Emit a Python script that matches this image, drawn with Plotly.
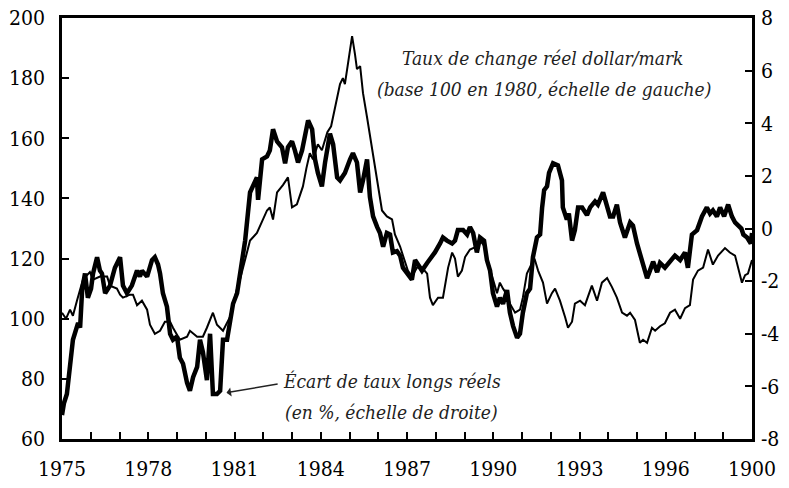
import plotly.graph_objects as go

# Taux de change réel dollar/mark (base 100 en 1980, échelle de gauche)
fx_years = [1975.00, 1975.14, 1975.28, 1975.38, 1975.52, 1975.73, 1975.97, 1976.08, 1976.32, 1976.57,
            1976.67, 1976.91, 1977.02, 1977.12, 1977.37, 1977.47, 1977.61, 1977.78, 1977.96, 1978.06,
            1978.23, 1978.41, 1978.58, 1978.76, 1978.86, 1979.10, 1979.35, 1979.45, 1979.70, 1979.90,
            1980.04, 1980.15, 1980.25, 1980.39, 1980.60, 1980.84, 1980.95, 1981.09, 1981.19, 1981.37,
            1981.54, 1981.78, 1981.99, 1982.13, 1982.23, 1982.34, 1982.48, 1982.69, 1982.86, 1983.00,
            1983.17, 1983.38, 1983.50, 1983.62, 1983.73, 1983.90, 1984.04, 1984.23, 1984.36, 1984.47,
            1984.55, 1984.67,
            1984.77, 1984.84, 1984.95, 1985.09, 1985.19, 1985.26, 1985.37, 1985.47, 1985.61, 1985.78,
            1985.96, 1986.13, 1986.30, 1986.48, 1986.58, 1986.76, 1986.86, 1987.03, 1987.17, 1987.35,
            1987.52, 1987.70, 1987.80, 1987.90, 1988.08, 1988.25, 1988.43, 1988.57, 1988.67, 1988.77,
            1988.91, 1989.02, 1989.19, 1989.43, 1989.54, 1989.71, 1989.78, 1989.99, 1990.13, 1990.23,
            1990.34, 1990.48, 1990.58, 1990.76, 1990.93, 1991.03, 1991.17, 1991.35, 1991.45, 1991.56,
            1991.73, 1991.87, 1992.04, 1992.15, 1992.32, 1992.50, 1992.60, 1992.74, 1992.84, 1993.02,
            1993.19, 1993.43, 1993.61, 1993.78, 1993.96, 1994.13, 1994.30, 1994.48, 1994.65, 1994.76,
            1994.93, 1995.10, 1995.21, 1995.35, 1995.52, 1995.63, 1995.80, 1995.97, 1996.15, 1996.32,
            1996.50, 1996.67, 1996.84, 1996.95, 1997.12, 1997.30, 1997.47, 1997.64, 1997.82, 1998.06,
            1998.23, 1998.41, 1998.65, 1998.76, 1998.86, 1999.00]
fx_values = [102, 100, 103, 101, 106, 113, 115.5, 113, 114, 114,
             111, 110, 108, 107, 108, 108, 104.5, 106, 103, 98,
             95, 96, 99, 99, 97, 93, 94, 96, 94, 94,
             97, 100, 102, 98, 96, 100.5, 105, 110, 113, 120,
             126, 128.5, 133, 136, 137, 133, 142, 144.5, 147, 137,
             138, 144, 150, 155, 153, 158, 156, 162, 164, 169,
             173, 178,
             180, 178, 185, 194, 188, 183, 184, 175, 167, 157,
             146, 136, 134, 133, 128, 124, 121, 116, 114, 117,
             117, 115, 107, 104.5, 107, 107, 117, 122, 120, 114,
             116, 120.5, 123, 124, 126, 124, 120, 113, 108.5, 112,
             110, 108, 105, 102, 103, 107, 115, 118.5, 119.5, 116,
             112, 105, 108.5, 110, 106, 100.5, 97, 99, 105, 106,
             104.5, 111, 106, 112, 113.5, 110.5, 107, 102, 101, 102,
             99.6, 92, 93, 92, 97, 96, 97.5, 98.5, 102, 103,
             100, 103.5, 104.5, 113, 116, 117, 123, 118, 121, 123.5,
             122, 121, 112, 114.5, 115, 119.5]

# Écart de taux longs réels (en %, échelle de droite)
gap_years = [1975.00, 1975.07, 1975.17, 1975.28, 1975.38, 1975.56, 1975.63, 1975.70, 1975.80, 1975.90,
             1976.01, 1976.08, 1976.22, 1976.32, 1976.39, 1976.50, 1976.67, 1976.84, 1977.02, 1977.12,
             1977.26, 1977.43, 1977.61, 1977.71, 1977.78, 1977.96, 1978.13, 1978.23, 1978.34, 1978.41,
             1978.51, 1978.65, 1978.76, 1978.86, 1979.00, 1979.10, 1979.21, 1979.35, 1979.45, 1979.56,
             1979.70, 1979.80, 1979.90, 1980.04, 1980.15, 1980.25, 1980.39, 1980.50, 1980.60, 1980.74,
             1980.84, 1980.95, 1981.09, 1981.19, 1981.30, 1981.37, 1981.54, 1981.64, 1981.78, 1981.82,
             1981.96, 1982.13, 1982.23, 1982.34, 1982.48, 1982.65, 1982.76, 1982.86, 1983.00, 1983.10,
             1983.21, 1983.35, 1983.45, 1983.56, 1983.70, 1983.80, 1983.90, 1984.04, 1984.15, 1984.32,
             1984.43, 1984.57, 1984.67, 1984.84, 1985.02, 1985.12, 1985.26, 1985.37, 1985.47, 1985.61,
             1985.71, 1985.82, 1985.96, 1986.06, 1986.17, 1986.30, 1986.41, 1986.51, 1986.65, 1986.76,
             1986.86, 1987.03, 1987.17, 1987.28, 1987.38, 1987.52, 1987.70, 1987.87, 1987.97, 1988.15,
             1988.25, 1988.39, 1988.57, 1988.67, 1988.77, 1988.95, 1989.09, 1989.19, 1989.30, 1989.43,
             1989.54, 1989.68, 1989.78, 1989.89, 1989.99, 1990.13, 1990.23, 1990.34, 1990.48, 1990.58,
             1990.69, 1990.83, 1990.93, 1991.03, 1991.17, 1991.28, 1991.38, 1991.52, 1991.63, 1991.70,
             1991.77, 1991.87, 1991.94, 1992.08, 1992.25, 1992.39, 1992.42, 1992.56, 1992.63, 1992.74,
             1992.84, 1992.95, 1993.09, 1993.26, 1993.37, 1993.54, 1993.64, 1993.82, 1993.96, 1994.06,
             1994.17, 1994.30, 1994.41, 1994.58, 1994.76, 1994.86, 1995.00, 1995.10, 1995.21, 1995.35,
             1995.45, 1995.56, 1995.70, 1995.80, 1995.97, 1996.15, 1996.32, 1996.50, 1996.67, 1996.77,
             1996.91, 1997.09, 1997.26, 1997.43, 1997.54, 1997.64, 1997.78, 1997.89, 1998.03, 1998.17,
             1998.30, 1998.41, 1998.63, 1998.70, 1998.83, 1998.96, 1999.00]
gap_values = [-7.09, -6.63, -6.29, -5.26, -4.23, -3.59, -3.77, -2.34, -1.71, -2.63,
              -2.29, -1.71, -1.09, -1.60, -1.71, -2.46, -2.17, -1.49, -1.09, -2.17,
              -2.46, -2.17, -1.60, -1.83, -1.60, -1.83, -1.20, -1.09, -1.37, -1.71,
              -2.46, -2.97, -4.00, -4.23, -4.11, -4.91, -5.14, -5.87, -6.17, -5.65,
              -5.26, -4.23, -4.69, -5.76, -4.00, -6.29, -6.29, -6.17, -4.23, -4.23,
              -3.59, -2.86, -2.46, -1.71, -0.80, -0.46, 1.37, 1.60, 1.94, 1.09,
              2.63, 2.74, 2.97, 3.77, 3.31, 3.09, 2.48, 3.09, 3.31, 2.97,
              2.51, 2.97, 3.43, 4.11, 3.77, 2.63, 2.11, 1.60, 2.51, 3.61,
              3.20, 1.94, 1.83, 2.11, 2.63, 2.86, 2.51, 1.37, 1.83, 2.63,
              1.20, 0.46, 0.06, -0.17, -0.69, -0.17, -0.23, -0.91, -0.86, -1.03,
              -1.49, -1.71, -1.94, -1.20, -1.37, -1.60, -1.31, -1.09, -0.91, -0.57,
              -0.34, -0.46, -0.57, -0.46, -0.06, -0.06, -0.23, 0.06, -0.17, -0.91,
              -0.34, -0.46, -1.20, -1.60, -2.46, -2.97, -2.63, -2.86, -2.34, -3.20,
              -3.71, -4.15, -4.00, -3.20, -2.46, -2.29, -1.09, -0.34, -0.23, 0.80,
              1.46, 1.60, 2.11, 2.48, 2.40, 1.83, 0.80, 0.34, 0.57, -0.46,
              -0.06, 0.80, 0.80, 0.51, 0.80, 1.03, 0.91, 1.37, 0.80, 0.46,
              0.46, 0.91, 0.23, -0.34, 0.23, 0.11, -0.57, -0.91, -1.31, -1.89,
              -1.60, -1.26, -1.66, -1.31, -1.49, -1.26, -1.03, -1.20, -0.91, -1.49,
              -0.23, -0.06, 0.46, 0.80, 0.57, 0.69, 0.46, 0.80, 0.46, 0.91,
              0.46, 0.23, 0.00, -0.23, -0.34, -0.57, -0.17]

x_tick_vals = list(range(1975, 2000))
x_tick_text = ["1975", "", "", "1978", "", "", "1981", "", "", "1984", "", "", "1987", "", "",
               "1990", "", "", "1993", "", "", "1996", "", "", "1900"]
left_ticks = [60, 80, 100, 120, 140, 160, 180, 200]
right_ticks = [-8, -6, -4, -2, 0, 2, 4, 6, 8]
right_tick_text = ["-8", "-6", "-4", "-2", "0", "2", "4", "6", "8"]

FONT = "'DejaVu Serif Condensed', 'DejaVu Serif', serif"

fig = go.Figure()
fig.add_trace(go.Scatter(x=fx_years, y=fx_values, mode="lines",
                         line=dict(color="black", width=2), yaxis="y", showlegend=False))
fig.add_trace(go.Scatter(x=gap_years, y=gap_values, mode="lines",
                         line=dict(color="black", width=4.5), yaxis="y2", showlegend=False))

fig.update_layout(
    width=789, height=488,
    margin=dict(l=62, r=37, t=18, b=49, autoexpand=False),
    paper_bgcolor="white", plot_bgcolor="white",
    font=dict(family=FONT, size=21, color="black"),
    xaxis=dict(range=[1975, 1999], tickvals=x_tick_vals, ticktext=x_tick_text,
               ticks="inside", ticklen=7, tickwidth=2, tickcolor="black",
               showline=True, linewidth=2.5, linecolor="black", mirror=True,
               showgrid=False, zeroline=False, ticklabelstandoff=9, automargin=False),
    yaxis=dict(range=[60, 200], tickvals=left_ticks, ticks="inside", ticklen=7,
               tickwidth=2, tickcolor="black", showline=True, linewidth=2.5,
               linecolor="black", showgrid=False, zeroline=False, ticklabelstandoff=10,
               automargin=False),
    yaxis2=dict(range=[-8, 8], tickvals=right_ticks, ticktext=right_tick_text,
                overlaying="y", side="right", ticks="inside", ticklen=7, tickwidth=2,
                tickcolor="black", showline=True, linewidth=2.5, linecolor="black",
                showgrid=False, zeroline=False, ticklabelstandoff=2, automargin=False),
)

ann_font = dict(family=FONT, size=19, color="#222222")
fig.add_annotation(x=1991.73, y=186.7, xref="x", yref="y", showarrow=False,
                   text="<i>Taux de change réel dollar/mark</i>", font=ann_font)
fig.add_annotation(x=1991.75, y=176.4, xref="x", yref="y", showarrow=False,
                   text="<i>(base 100 en 1980, échelle de gauche)</i>", font=ann_font)
fig.add_annotation(x=1982.5, y=-5.91, xref="x", yref="y2", showarrow=True,
                   ax=1980.67, ay=-6.25, axref="x", ayref="y2",
                   text="", arrowhead=2, arrowsize=1.4, arrowwidth=1.5, arrowcolor="#222222",
                   arrowside="start")
fig.add_annotation(x=1982.62, y=-5.8, xref="x", yref="y2", showarrow=False, xanchor="left",
                   text="<i>Écart de taux longs réels</i>", font=ann_font)
fig.add_annotation(x=1982.69, y=-6.98, xref="x", yref="y2", showarrow=False, xanchor="left",
                   text="<i>(en %, échelle de droite)</i>", font=ann_font)

fig.write_html("out.html", config={"displayModeBar": False},
               post_script="document.body.style.margin='0px';")
